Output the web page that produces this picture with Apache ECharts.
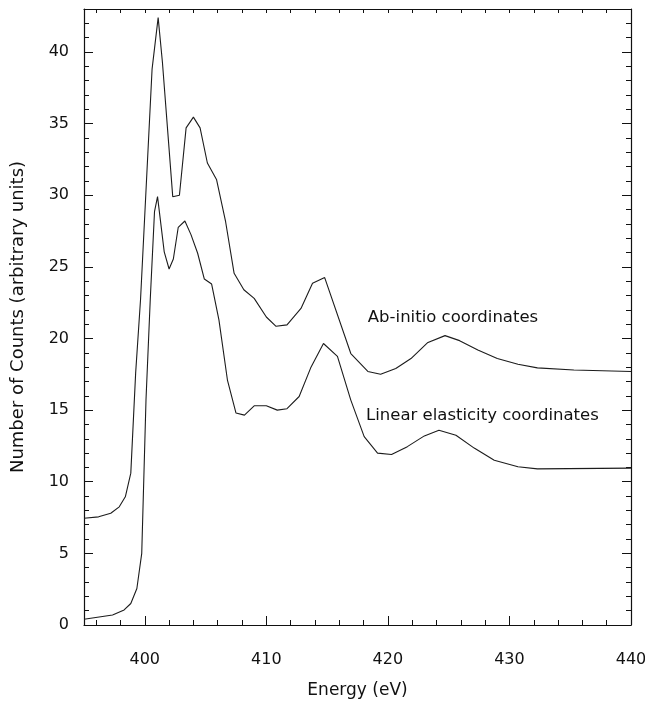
<!DOCTYPE html>
<html>
<head>
<meta charset="utf-8">
<script src="https://cdn.jsdelivr.net/npm/echarts@6/dist/echarts.min.js"></script>
<style>
  html, body { margin: 0; padding: 0; background: #fff; }
  #spectrum { width: 645px; height: 704px; }
</style>
</head>
<body>
<div id="spectrum"></div>
<script>
// ab-initio coordinates curve (upper)
var abInitioEnergy = [395.0, 396.2, 397.2, 397.9, 398.4, 398.85, 399.25, 399.65, 400.6, 401.1, 401.45,
  402.3, 402.85, 403.4, 404.0, 404.55, 405.15, 405.9, 406.65, 407.35, 408.15, 409.0, 410.0, 410.8,
  411.7, 412.85, 413.8, 414.8, 416.95, 418.35, 419.4, 420.65, 421.9, 423.25, 424.7, 425.9, 427.4,
  429.0, 430.7, 432.3, 435.3, 440.0];
var abInitioCounts = [7.45, 7.55, 7.8, 8.25, 8.95, 10.6, 17.6, 22.7, 38.8, 42.4, 39.3,
  29.9, 30.0, 34.7, 35.45, 34.7, 32.25, 31.1, 28.15, 24.55, 23.4, 22.8, 21.5, 20.85,
  20.95, 22.1, 23.85, 24.25, 18.95, 17.7, 17.5, 17.9, 18.6, 19.7, 20.2, 19.85, 19.2,
  18.6, 18.2, 17.95, 17.8, 17.7];

// linear elasticity coordinates curve (lower)
var linearEnergy = [395.0, 397.35, 398.3, 398.85, 399.35, 399.75, 400.1, 400.45, 400.8, 401.05,
  401.6, 402.0, 402.35, 402.75, 403.3, 403.8, 404.35, 404.9, 405.5, 406.1, 406.8, 407.5, 408.2,
  409.0, 410.0, 410.9, 411.7, 412.7, 413.65, 414.7, 415.85, 416.95, 418.05, 419.15, 420.3, 421.6,
  423.0, 424.2, 425.6, 427.1, 428.75, 430.7, 432.3, 440.0];
var linearCounts = [0.4, 0.7, 1.05, 1.5, 2.55, 5.0, 15.7, 22.7, 28.85, 29.9,
  26.05, 24.85, 25.55, 27.75, 28.2, 27.25, 25.95, 24.15, 23.8, 21.3, 17.1, 14.8, 14.65,
  15.3, 15.3, 15.0, 15.1, 15.95, 17.95, 19.65, 18.75, 15.7, 13.15, 12.0, 11.9, 12.45,
  13.2, 13.6, 13.25, 12.35, 11.5, 11.05, 10.9, 10.95];

var seriesNames = ['Ab-initio coordinates', 'Linear elasticity coordinates'];

var xMajorTicks = [400, 410, 420, 430, 440];
var xMinorTicks = [396, 398, 402, 404, 406, 408, 412, 414, 416, 418, 422, 424, 426, 428, 432, 434, 436, 438];
var yMajorTicks = [0, 5, 10, 15, 20, 25, 30, 35, 40];
var yMinorTicks = [1, 2, 3, 4, 6, 7, 8, 9, 11, 12, 13, 14, 16, 17, 18, 19, 21, 22, 23, 24,
  26, 27, 28, 29, 31, 32, 33, 34, 36, 37, 38, 39, 41, 42];

function pairs(xs, ys) {
  return xs.map(function (x, i) { return [x, ys[i]]; });
}

var myChart = echarts.init(document.getElementById('spectrum'));

var font = 'DejaVu Sans';
var ink = '#111';

function xAxisPart(position, ticks, len, withLine, withLabel) {
  return {
    type: 'value', min: 395, max: 440, position: position,
    axisLine: { show: withLine, onZero: false, lineStyle: { color: ink, width: 1.2 } },
    axisTick: { show: true, inside: true, length: len, customValues: ticks, lineStyle: { color: ink, width: 1 } },
    axisLabel: withLabel
      ? { show: true, customValues: xMajorTicks, margin: 27, color: ink, fontSize: 16, fontFamily: font }
      : { show: false },
    splitLine: { show: false }
  };
}

function yAxisPart(position, ticks, len, withLine, withLabel) {
  return {
    type: 'value', min: 0, max: 43, position: position,
    axisLine: { show: withLine, onZero: false, lineStyle: { color: ink, width: 1.2 } },
    axisTick: { show: true, inside: true, length: len, customValues: ticks, lineStyle: { color: ink, width: 1 } },
    axisLabel: withLabel
      ? { show: true, customValues: yMajorTicks, margin: 15, color: ink, fontSize: 16, fontFamily: font, padding: [7, 0, 0, 0] }
      : { show: false },
    splitLine: { show: false }
  };
}

var xAxes = [
  xAxisPart('bottom', xMajorTicks, 9, true, true),
  xAxisPart('bottom', xMinorTicks, 5, false, false),
  xAxisPart('top', xMajorTicks.concat(xMinorTicks), 4, true, false)
];
xAxes[0].name = 'Energy (eV)';
xAxes[0].nameLocation = 'middle';
xAxes[0].nameGap = 57;
xAxes[0].nameTextStyle = { color: ink, fontSize: 17, fontFamily: font };

var yAxes = [
  yAxisPart('left', yMajorTicks, 9, true, true),
  yAxisPart('left', yMinorTicks, 5, false, false),
  yAxisPart('right', yMajorTicks, 9, true, false),
  yAxisPart('right', yMinorTicks, 5, false, false)
];
yAxes[0].name = 'Number of Counts (arbitrary units)';
yAxes[0].nameLocation = 'middle';
yAxes[0].nameGap = 57;
yAxes[0].nameTextStyle = { color: ink, fontSize: 18, fontFamily: font };

function curve(name, data, labelAt) {
  return {
    name: name,
    type: 'line',
    xAxisIndex: 0,
    yAxisIndex: 0,
    data: data,
    symbol: 'none',
    lineStyle: { color: '#1c1c1c', width: 1.1 },
    markPoint: {
      silent: true,
      symbol: 'circle',
      symbolSize: 0,
      data: [{
        coord: labelAt,
        label: {
          show: true, position: 'right', distance: 0, formatter: name,
          color: ink, fontSize: 16.5, fontFamily: font
        }
      }]
    }
  };
}

var option = {
  animation: false,
  backgroundColor: '#fff',
  grid: { left: 84, right: 14, top: 9, bottom: 79, outerBoundsMode: 'none' },
  xAxis: xAxes,
  yAxis: yAxes,
  series: [
    curve(seriesNames[0], pairs(abInitioEnergy, abInitioCounts), [418.35, 21.45]),
    curve(seriesNames[1], pairs(linearEnergy, linearCounts), [418.2, 14.6])
  ]
};

myChart.setOption(option);
</script>
</body>
</html>
